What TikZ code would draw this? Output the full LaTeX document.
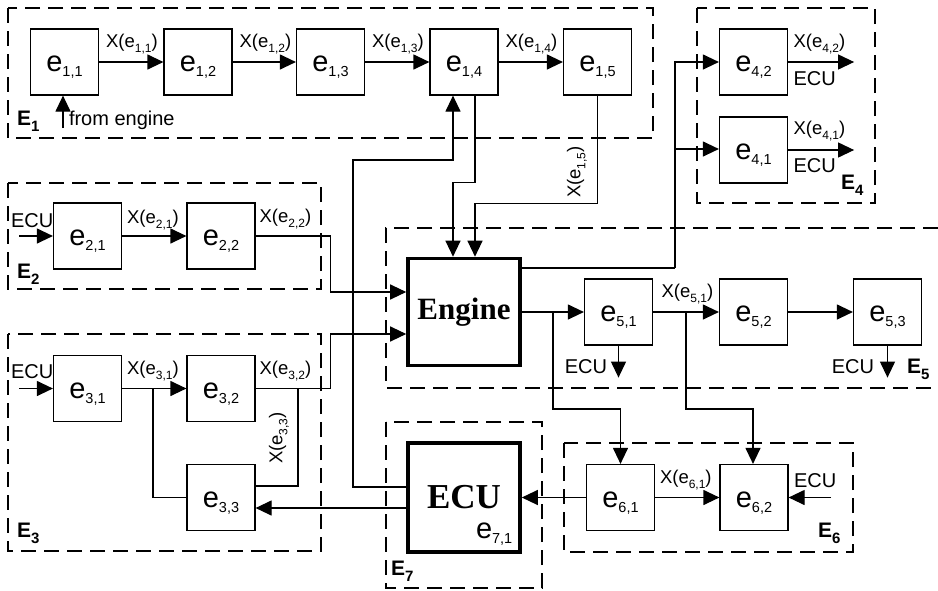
\documentclass[tikz,border=0pt]{standalone}
\usepackage{fontspec}
\setmainfont{Liberation Sans}
\newfontfamily\tms{Liberation Serif}
\usetikzlibrary{arrows.meta}
\newcommand\esub[1]{\raisebox{-5pt}{\fontsize{14.5}{14.5}\selectfont #1}}
\newcommand\etx[1]{\raisebox{-9.5pt}[0pt][0pt]{\fontsize{29}{29}\selectfont e\esub{#1}}}
\newcommand\xl[1]{\fontsize{18.5}{18.5}\selectfont X(e\raisebox{-5pt}{\fontsize{12}{12}\selectfont #1})}
\newcommand\grp[1]{\fontsize{21}{21}\selectfont\bfseries E\raisebox{-6pt}{\fontsize{15}{15}\selectfont #1}}
\newcommand\sm{\fontsize{20}{20}\selectfont}
\tikzset{
  box/.style={draw, line width=1.2pt, minimum width=68pt, minimum height=66pt, inner sep=0pt},
  big/.style={draw, line width=3.6pt, minimum width=112pt, minimum height=107pt, inner sep=0pt,
    font=\tms\bfseries\fontsize{31}{31}\selectfont},
  grpbox/.style={draw, dash pattern=on 15pt off 8pt, line width=1.1pt},
  conn/.style={line width=1.2pt},
  arr/.style={conn, -{Triangle[length=16pt,width=15pt]}},
  lbl/.style={inner sep=0pt, outer sep=0pt}
}
\begin{document}
\begin{tikzpicture}[x=1pt,y=-1pt]
\useasboundingbox (0,0) rectangle (938,590);
% groups
\draw[grpbox] (8,8) rectangle (653,138);
\draw[grpbox] (8,183) rectangle (321,289);
\draw[grpbox] (8,334) rectangle (321,551);
\draw[grpbox] (697,8) rectangle (875,203);
\draw[grpbox] (938,228) -- (386,228) -- (386,388) -- (938,388);
\draw[grpbox] (564,443) rectangle (853,552);
\draw[grpbox] (386,422) rectangle (542,588);
% elements
\node[box] (e11) at (64.5,62) {\etx{1,1}};
\node[box] (e12) at (198,62) {\etx{1,2}};
\node[box] (e13) at (330.5,62) {\etx{1,3}};
\node[box] (e14) at (464,62) {\etx{1,4}};
\node[box] (e15) at (597.5,62) {\etx{1,5}};
\node[box] (e42) at (753.5,62) {\etx{4,2}};
\node[box] (e41) at (753.5,150) {\etx{4,1}};
\node[box] (e21) at (87.5,236) {\etx{2,1}};
\node[box] (e22) at (221,236) {\etx{2,2}};
\node[box] (e31) at (87.5,388.5) {\etx{3,1}};
\node[box] (e32) at (221,388.5) {\etx{3,2}};
\node[box] (e33) at (221,497.5) {\etx{3,3}};
\node[big] (eng) at (464,312) {Engine};
\node[big, minimum height=109pt, font=\tms\bfseries\fontsize{35}{35}\selectfont] (ecu) at (464,497.5) {ECU};
\node[lbl, anchor=base west] (e71) at (476,538) {\fontsize{29}{29}\selectfont e\esub{7,1}};
\node[box] (e51) at (618.5,312) {\etx{5,1}};
\node[box] (e52) at (753.5,312) {\etx{5,2}};
\node[box] (e53) at (887.5,312) {\etx{5,3}};
\node[box] (e61) at (620.5,497.5) {\etx{6,1}};
\node[box] (e62) at (754,497.5) {\etx{6,2}};
% group labels
\node[lbl, anchor=base west] (g1) at (17,125) {\grp{1}};
\node[lbl, anchor=base west] (g2) at (17,278) {\grp{2}};
\node[lbl, anchor=base west] (g3) at (17,537) {\grp{3}};
\node[lbl, anchor=base west] (g4) at (841,189) {\grp{4}};
\node[lbl, anchor=base west] (g5) at (907,373) {\grp{5}};
\node[lbl, anchor=base west] (g6) at (818,537) {\grp{6}};
\node[lbl, anchor=base west] (g7) at (391,575) {\grp{7}};
% E1 chain
\draw[arr] (e11) -- (e12);
\draw[arr] (e12) -- (e13);
\draw[arr] (e13) -- (e14);
\draw[arr] (e14) -- (e15);
\node[lbl, anchor=base west] (x11) at ([xshift=7pt,yshift=15pt]e11.east) {\xl{1,1}};
\node[lbl, anchor=base west] (x12) at ([xshift=7pt,yshift=15pt]e12.east) {\xl{1,2}};
\node[lbl, anchor=base west] (x13) at ([xshift=7pt,yshift=15pt]e13.east) {\xl{1,3}};
\node[lbl, anchor=base west] (x14) at ([xshift=7pt,yshift=15pt]e14.east) {\xl{1,4}};
\coordinate (fe) at (63,128);
\draw[arr] (fe) -- (e11.south -| fe);
\node[lbl, anchor=base west] (fet) at (69,125) {\sm from engine};
% E4
\coordinate (o42) at ([xshift=66pt]e42.east);
\coordinate (o41) at ([xshift=66pt]e41.east);
\draw[arr] (e42) -- (o42);
\draw[arr] (e41) -- (o41);
\node[lbl, anchor=base west] (x42) at ([xshift=5.5pt,yshift=15pt]e42.east) {\xl{4,2}};
\node[lbl, anchor=base west] (c42) at ([xshift=5.5pt,yshift=-23pt]e42.east) {\sm ECU};
\node[lbl, anchor=base west] (x41) at ([xshift=5.5pt,yshift=16pt]e41.east) {\xl{4,1}};
\node[lbl, anchor=base west] (c41) at ([xshift=5.5pt,yshift=-22pt]e41.east) {\sm ECU};
% E2
\coordinate (i21) at (19,236);
\draw[arr] (i21) -- (e21);
\node[lbl, anchor=base west] (c21) at (11,227) {\sm ECU};
\draw[arr] (e21) -- (e22);
\node[lbl, anchor=base west] (x21) at ([xshift=5pt,yshift=13pt]e21.east) {\xl{2,1}};
\node[lbl, anchor=base west] (x22) at ([xshift=4pt,yshift=14pt]e22.east) {\xl{2,2}};
\draw[arr] (e22.east) -- ++(75,0) |- ([yshift=20pt]eng.west);
% E3
\coordinate (i31) at (19,388.5);
\draw[arr] (i31) -- (e31);
\node[lbl, anchor=base west] (c31) at (11,378) {\sm ECU};
\draw[arr] (e31) -- (e32);
\node[lbl, anchor=base west] (x31) at ([xshift=5pt,yshift=14pt]e31.east) {\xl{3,1}};
\node[lbl, anchor=base west] (x32) at ([xshift=4pt,yshift=14pt]e32.east) {\xl{3,2}};
\coordinate (j31) at (153,388.5);
\draw[conn] (j31) |- (e33.west);
\draw[arr] (e32.east) -- ++(75,0) |- ([yshift=-22pt]eng.west);
\coordinate (j32) at (298,388.5);
\draw[conn] (j32) |- ([yshift=11.5pt]e33.east);
\node[lbl, rotate=90] (x33) at (279,438) {\xl{3,3}};
% ECU links
\draw[arr] ([yshift=-10.5pt]ecu.west) -- ([yshift=-10.5pt]e33.east);
\draw[arr] ([yshift=10.5pt]ecu.west) -| (353,160) -| ([xshift=-11pt]e14.south);
% into engine from top
\draw[arr] ([xshift=11pt]e14.south) -- ++(0,87) -| ([xshift=-11pt]eng.north);
\draw[arr] (e15.south) -- ++(0,108) -| ([xshift=11pt]eng.north);
\node[lbl, rotate=90] (x15) at (577,172) {\xl{1,5}};
% engine to E4
\coordinate (j4) at (675,268);
\draw[conn] ([yshift=44pt]eng.east) -- (j4);
\draw[arr] (j4) |- (e42.west);
\draw[arr] (j4) |- ([yshift=1pt]e41.west);
% E5
\draw[arr] (eng.east) -- (e51.west);
\coordinate (j51) at (553,312);
\draw[arr] (j51) -- ++(0,97) -| (e61.north);
\draw[arr] (e51) -- (e52);
\node[lbl, anchor=base west] (x51) at ([xshift=8.5pt,yshift=15pt]e51.east) {\xl{5,1}};
\coordinate (j52) at (686,312);
\draw[arr] (j52) -- ++(0,97) -| ([xshift=-1pt]e62.north);
\draw[arr] (e52) -- (e53);
\draw[arr] (e51.south) -- ++(0,32) coordinate (o51);
\node[lbl, anchor=base east] (c51) at (607,373) {\sm ECU};
\draw[arr] (e53.south) -- ++(0,32) coordinate (o53);
\node[lbl, anchor=base east] (c53) at (874,373) {\sm ECU};
% E6
\draw[arr] (e61.west) -- (ecu.east);
\draw[arr] (e61) -- (e62);
\node[lbl, anchor=base west] (x61) at (660,483) {\xl{6,1}};
\coordinate (i62) at (831,497.5);
\draw[arr] (i62) -- (e62.east);
\node[lbl, anchor=base west] (c62) at (794,487) {\sm ECU};
\end{tikzpicture}
\end{document}
